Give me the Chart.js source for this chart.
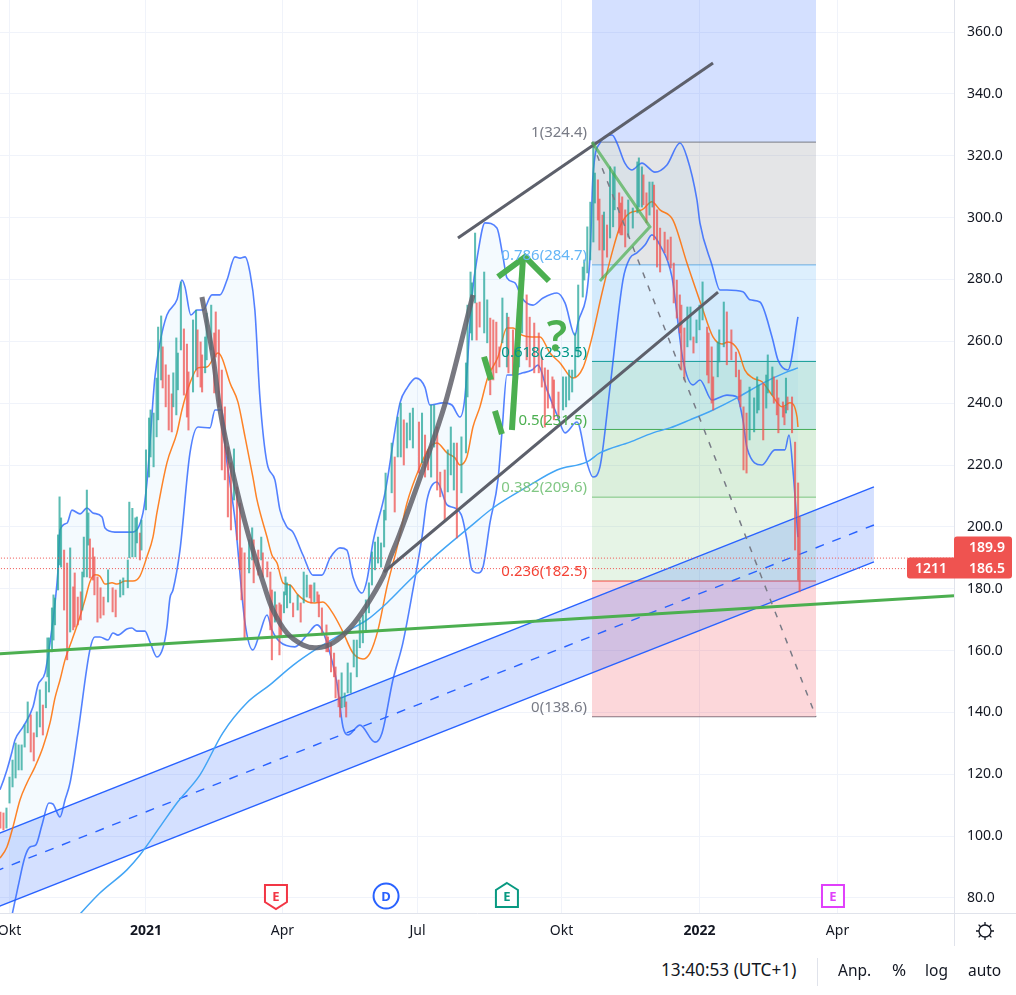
<!DOCTYPE html>
<html>
<head>
<meta charset="utf-8">
<title>1211</title>
<script src="https://cdn.jsdelivr.net/npm/chart.js@4"></script>
<style>
  body { margin: 0; background: #fff; font-family: "Noto Sans", sans-serif; color: #131722; }
  #wrap { position: relative; width: 1016px; height: 995px; overflow: hidden; }
  canvas { position: absolute; left: 0; top: 0; }
  .foot { position: absolute; top: 959px; font-size: 15.5px; line-height: 22px; white-space: nowrap; }
  .rule { position: absolute; background: #e0e3eb; }
</style>
</head>
<body>
<div id="wrap">
  <canvas id="chart" width="1016" height="945"></canvas>
  <div class="rule" style="left:954px;top:913px;width:1px;height:33px"></div>
  <div class="rule" style="left:954px;top:913px;width:62px;height:1px"></div>
  <div class="rule" style="left:817px;top:958px;width:1px;height:28px"></div>
  <svg style="position:absolute;left:974px;top:920px" width="22" height="22" viewBox="0 0 22 22" fill="none" stroke="#131722" stroke-width="1.3">
    <circle cx="11" cy="11" r="6"/>
    <path d="M11 2v3M11 17v3M2 11h3M17 11h3M4.6 4.6l2.1 2.1M15.3 15.3l2.1 2.1M4.6 17.4l2.1-2.1M15.3 6.7l2.1-2.1"/>
  </svg>
  <span class="foot" style="left:661px;font-size:17.2px">13:40:53 (UTC+1)</span>
  <span class="foot" style="left:838px">Anp.</span>
  <span class="foot" style="left:892px;font-size:17px">%</span>
  <span class="foot" style="left:925px">log</span>
  <span class="foot" style="left:968px">auto</span>
</div>
<script>
// x values are calendar days counted from 1 Oct 2020, y values are the share price
const tickDays = [2, 92, 182, 271, 366, 457, 548];
const tickLabels = ['Okt', '2021', 'Apr', 'Jul', 'Okt', '2022', 'Apr'];

const barDays = [
  -4, -2, 0, 2, 4, 6, 8, 10, 12, 14,
  16, 18, 20, 22, 24, 26, 27, 28, 30, 31,
  32, 34, 35, 36, 38, 40, 42, 44, 45, 47,
  49, 50, 51, 53, 54, 55, 57, 58, 60, 62,
  64, 67, 70, 72, 75, 77, 80, 81, 83, 85,
  86, 88, 89, 92, 94, 95, 97, 99, 100, 102,
  103, 105, 107, 109, 110, 112, 113, 115, 117, 119,
  120, 123, 125, 126, 128, 129, 131, 132, 135, 137,
  138, 140, 142, 144, 146, 148, 150, 152, 154, 155,
  157, 160, 162, 163, 166, 168, 169, 172, 174, 175,
  177, 178, 180, 181, 183, 184, 185, 187, 189, 192,
  194, 196, 198, 200, 201, 203, 205, 206, 208, 211,
  212, 214, 216, 217, 219, 220, 221, 223, 224, 225,
  227, 229, 231, 233, 235, 237, 239, 241, 243, 245,
  247, 249, 250, 254, 256, 258, 260, 262, 264, 266,
  268, 272, 274, 276, 278, 280, 282, 284, 286, 289,
  291, 293, 295, 297, 300, 303, 304, 306, 307, 309,
  310, 312, 315, 317, 319, 321, 323, 325, 327, 330,
  331, 334, 336, 338, 340, 343, 345, 348, 351, 353,
  355, 357, 360, 361, 364, 367, 369, 371, 373, 375,
  377, 380, 381, 383, 385, 387, 388, 390, 391, 393,
  394, 396, 398, 400, 401, 404, 405, 406, 408, 410,
  413, 416, 417, 419, 420, 422, 424, 426, 427, 429,
  431, 434, 436, 438, 440, 442, 444, 445, 447, 449,
  451, 453, 455, 457, 459, 462, 463, 465, 466, 469,
  470, 473, 475, 478, 481, 483, 484, 486, 488, 490,
  493, 495, 496, 499, 501, 502, 505, 506, 508, 509,
  512, 513, 514, 515, 518, 520, 522, 523
];
const barHighs = [
  107.8, 107.5, 109.1, 119.1, 124.6, 130.1, 129.5, 129.5, 136, 143.4,
  139.2, 133.4, 140.2, 147.3, 142.4, 149.9, 164.1, 164.1, 173.8, 178,
  177, 197.4, 209.7, 202.9, 192.5, 188.3, 193.2, 180.6, 185.1, 177.3,
  179, 185.4, 196.7, 211.9, 204.5, 196.1, 193.2, 190.3, 183.8, 180.3,
  177.3, 186.1, 180.3, 179.6, 182.8, 183.5, 189.3, 208, 206, 202.9,
  203.2, 198, 202.2, 224.9, 235.2, 237.8, 236.8, 248.1, 264.6, 268.2,
  258.2, 252.4, 249.1, 243, 249.8, 261.1, 256.2, 279.2, 264, 259.1,
  250.1, 266.9, 270.1, 263.7, 259.8, 255.6, 261.4, 269.1, 271.7, 262.7,
  269.5, 263.7, 250.7, 238.8, 225.9, 220.7, 225.2, 212.9, 207.7, 193.2,
  191.6, 195.8, 199.7, 195.8, 192.5, 196.7, 191.6, 188.7, 185.4, 179.6,
  179, 174.8, 175.4, 174.8, 179, 183.8, 181.9, 181.2, 175.4, 178,
  175.4, 185.4, 184.4, 181.2, 181.2, 181.9, 179, 178, 173.8, 168.3,
  164.4, 162.5, 159.2, 154.7, 150.5, 145, 152.8, 146.3, 143.4, 156,
  152.8, 163.4, 163.4, 169.9, 171.5, 176.4, 181.9, 191.9, 195.1, 196.7,
  194.8, 205.4, 217.4, 227.1, 222.6, 235.5, 240, 234.6, 233.6, 236.8,
  238.4, 233.9, 236.8, 229.7, 224.9, 239.4, 239.4, 232.3, 217.7, 218.4,
  224.9, 232.3, 227.1, 227.1, 229.1, 253, 271.7, 282.4, 278.9, 295,
  272.4, 272.7, 282.4, 273.4, 267.5, 266.9, 266.2, 258.2, 274, 269.1,
  267.8, 263.7, 263.7, 262.7, 277.6, 275, 267.8, 265.9, 262.7, 254.9,
  251.4, 250.7, 248.5, 247.5, 243.6, 248.5, 248.5, 250.7, 250.7, 262.7,
  278.2, 284, 286.3, 297, 305, 324.1, 314.4, 312.2, 306, 300.8,
  301.8, 297.6, 316.4, 314.4, 316.4, 308, 304.7, 306.7, 302.5, 305.7,
  303.1, 318, 319.3, 316.4, 313.8, 308, 311.5, 311.5, 310.5, 302.5,
  296.6, 295.3, 292.8, 293.7, 285.3, 279.8, 275, 271.7, 264.3, 271.1,
  271.1, 261.4, 266.9, 271.7, 279.2, 264.6, 262.7, 258.2, 248.5, 259.8,
  263.7, 272.7, 269.5, 263.7, 256.5, 250.7, 247.5, 238.8, 236.8, 245.2,
  241.7, 248.5, 245.9, 246.5, 249.1, 255.6, 251.7, 248.5, 247.5, 241.7,
  240.4, 238.8, 248.1, 242, 242, 227.4, 214.2, 203.2
];
const barLows = [
  102.6, 102, 102.6, 110.7, 115.9, 118.8, 121.4, 121.4, 128.8, 133.4,
  127.2, 124.3, 132.1, 135.3, 132.7, 141.5, 151.5, 146.6, 159.6, 163.4,
  168.3, 179.6, 187.7, 187, 173.1, 157, 166, 166.7, 167.6, 168.3,
  169.9, 173.1, 183.8, 183.8, 194.1, 183.5, 182.8, 178, 169.2, 170.5,
  171.5, 175.7, 172.5, 170.9, 177.3, 178, 180.3, 190, 190.3, 190.3,
  194.8, 189.3, 192.5, 205.5, 216.1, 222.6, 219.4, 229.1, 234.6, 247.5,
  244.9, 238.8, 231.3, 230.7, 238.8, 236.2, 244.3, 257.2, 242.6, 235.5,
  231.3, 243.6, 250.7, 248.5, 245.2, 243.6, 249.8, 254, 257.2, 243.3,
  254.9, 238.8, 218.4, 215.2, 203.2, 199, 208.7, 195.8, 186.1, 176.4,
  164.1, 185.1, 189.3, 181.9, 184.4, 189.3, 183.8, 183.8, 166.7, 157,
  169.2, 169.9, 158.6, 165, 172.2, 178, 173.8, 175.4, 170.9, 173.1,
  169.2, 175.4, 177.3, 177, 175.4, 175.7, 175.7, 170.9, 165, 159.6,
  159.6, 153.1, 151.5, 144.7, 141.8, 138.5, 141.5, 141.8, 138.5, 146.3,
  146.3, 154.7, 151.5, 160.9, 162.5, 166.7, 172.2, 181.2, 186.1, 188.3,
  187, 193.5, 202.2, 211, 204.8, 222.6, 222.6, 220, 225.5, 228.1,
  225.5, 217.4, 220.7, 216.1, 218.4, 216.1, 225.8, 211.9, 209.7, 202.2,
  211.3, 216.8, 211.9, 196.4, 211, 223.9, 242, 262.7, 260.4, 272.4,
  260.4, 264.6, 262.7, 259.5, 242.7, 247.5, 249.8, 251.7, 259.5, 251.7,
  249.8, 249.1, 251.7, 251.7, 262.7, 254, 251.7, 249.8, 249.8, 245.2,
  232.3, 238.4, 238.4, 234.6, 235.5, 237.8, 238.8, 241, 243.6, 248.5,
  254.9, 274.3, 279.8, 282.1, 286.3, 292.1, 304.7, 299.2, 289.5, 280.5,
  289.5, 287.2, 293.4, 297, 302.5, 295, 294.4, 294.4, 290.5, 293.7,
  296.6, 301.5, 303.4, 303.4, 304.1, 298.3, 300.8, 303.4, 292.8, 284,
  282.4, 288.6, 286.3, 283.7, 272.4, 267.5, 262.7, 250.7, 247.5, 258.2,
  260.4, 256.2, 259.5, 263.7, 266.9, 249.1, 246.5, 240, 237.8, 248.5,
  253.3, 258.2, 252.4, 254, 248.5, 241, 238.8, 218.4, 217.4, 228.1,
  230.7, 236.8, 237.8, 228.1, 238.4, 243.3, 242.6, 240, 236.2, 230.4,
  235.5, 233, 236.8, 237.8, 230.4, 192.5, 182.8, 179
];
const barRising = [
  0, 0, 1, 1, 1, 1, 1, 1, 1, 1,
  0, 0, 1, 1, 0, 1, 1, 1, 1, 1,
  1, 1, 1, 1, 0, 0, 1, 0, 0, 0,
  0, 1, 1, 1, 1, 0, 0, 0, 0, 0,
  0, 1, 0, 0, 1, 1, 1, 1, 1, 1,
  1, 0, 1, 1, 1, 1, 1, 1, 1, 1,
  0, 0, 0, 0, 1, 1, 1, 1, 0, 0,
  0, 1, 1, 0, 0, 0, 1, 1, 1, 0,
  0, 0, 0, 0, 0, 0, 1, 0, 0, 0,
  0, 1, 1, 0, 0, 1, 0, 0, 0, 0,
  1, 0, 0, 0, 1, 1, 1, 1, 0, 1,
  0, 1, 1, 0, 0, 1, 0, 0, 0, 0,
  0, 0, 0, 0, 0, 0, 1, 1, 0, 1,
  1, 1, 1, 1, 1, 1, 1, 1, 1, 1,
  1, 1, 1, 1, 0, 1, 1, 0, 1, 1,
  1, 0, 1, 0, 0, 1, 1, 0, 0, 0,
  1, 1, 1, 0, 1, 1, 1, 1, 1, 1,
  0, 0, 1, 1, 0, 0, 0, 0, 1, 1,
  0, 0, 0, 1, 1, 0, 0, 0, 0, 0,
  0, 0, 0, 0, 0, 1, 1, 1, 1, 1,
  1, 1, 1, 1, 1, 1, 1, 0, 0, 0,
  1, 0, 1, 1, 1, 0, 0, 0, 0, 1,
  1, 1, 1, 1, 0, 0, 1, 1, 0, 0,
  0, 0, 0, 0, 0, 0, 0, 0, 0, 1,
  1, 0, 1, 1, 1, 0, 0, 0, 0, 1,
  1, 1, 0, 0, 0, 0, 0, 0, 0, 1,
  1, 1, 1, 0, 1, 1, 1, 0, 0, 0,
  0, 0, 1, 0, 0, 0, 0, 0
];

const upperDays = [
  -7.6, -4.3, 0.3, 3.6, 5.6, 10.9, 17.5, 20.8, 25.4, 28.7, 32, 34, 35.3, 39.9, 43.2, 48.5, 53.1, 57, 63, 65,
  71.5, 78.1, 82.7, 90, 92.6, 97.9, 101.2, 105.8, 112.4, 115.7, 117.7, 121.6, 125.6, 129.6, 135.5, 140.8, 145.4, 150.7, 154, 157.3,
  160.6, 163.8, 167.1, 171.8, 177, 180.3, 184.9, 188.9, 195.5, 202.1, 208, 213.3, 219.9, 224.5, 228.5, 234.4, 237.7, 241.7, 249.6, 259.5,
  264.1, 270, 275.9, 279.2, 287.8, 293.7, 299, 302.3, 306.9, 310.9, 315.5, 323.4, 327.4, 330, 335.3, 339.9, 347.2, 353.8, 363, 368.3,
  374.9, 376.8, 384.8, 386.7, 391.3, 399.3, 402.6, 407.8, 412.4, 419, 427.6, 435.5, 444.1, 448.7, 455.3, 457.3, 465.2, 470.5, 475.1, 485.6,
  490.3, 496.8, 504.8, 508.7, 515.3, 521.9
];
const upperBand = [
  111.7, 115, 121.4, 127.2, 131.1, 135.3, 141.8, 148.9, 152.8, 162.5, 175.4, 186.1, 199, 201.2, 205.4, 204.2, 206.1, 204.5, 203.2, 199.6,
  198.3, 198.3, 198.3, 204.5, 214.2, 248.5, 259.5, 268.5, 273.4, 279.8, 277.6, 268.5, 270.1, 270.1, 275, 275, 279.8, 287.3, 286.9, 287.3,
  282.1, 270.1, 242, 220.7, 215.2, 205.5, 200, 198.3, 190.9, 184.4, 184.4, 189.9, 193.2, 192.5, 183.8, 178.6, 182.8, 195.1, 211, 240.1,
  244.9, 248.1, 245.2, 239.4, 240.1, 239.4, 235.5, 242, 274.3, 288.6, 298.3, 296.6, 287.3, 280.5, 278.9, 274, 271.7, 274, 275.6, 272.4,
  262, 265.9, 287.3, 313.1, 324.1, 326.7, 324.1, 317.6, 315.4, 317.6, 314.7, 317, 324.1, 319.6, 305.7, 298.2, 284.7, 276.6, 276.6, 276,
  273.4, 272.7, 261.4, 254, 250.7, 267.9
];

const lowerDays = [
  2.3, 7.6, 12.2, 15.5, 19.4, 23.4, 28, 30.6, 35.3, 38.6, 41.9, 47.1, 55, 58.3, 61.6, 66.9, 70.2, 73.5, 79.4, 82.7,
  86, 91.3, 94.6, 99.2, 103.2, 105.8, 107.8, 109.8, 114.4, 121, 126.3, 134.2, 137.5, 142.1, 144.1, 147.4, 150.7, 157.3, 162.5, 167.1,
  171.8, 175, 180.3, 190.2, 198.1, 204.7, 208, 211.3, 217.9, 221.9, 225.2, 233.1, 243, 247.6, 254.8, 261.4, 268, 274, 277.3, 283.9,
  290.5, 295.7, 300.4, 303.6, 306.9, 310.9, 314.2, 318.8, 324.1, 326.7, 330, 333.3, 340.6, 346.5, 350.5, 356.4, 363.6, 368.3, 376.2, 382.8,
  386.7, 391.3, 398, 406.5, 411.1, 415.7, 421, 425.6, 430.9, 438.8, 446.1, 452.7, 457.3, 465.2, 475.1, 481.7, 485.6, 488.3, 498.2, 506.7,
  513.3, 516, 518.6, 521.9
];
const lowerBand = [
  71.3, 83.6, 93.3, 96.5, 97.2, 103.6, 110.7, 110.4, 106.2, 111.7, 117.2, 133.3, 160.2, 164.4, 164.4, 163.4, 165.7, 165, 167, 167.3,
  166.3, 166.3, 162.8, 157.9, 160.9, 167.6, 177, 179.6, 192.5, 223.9, 232.3, 232, 237.8, 237.8, 225.8, 214.2, 202.2, 168.9, 160.2, 165.7,
  171.5, 166.7, 162.8, 161.2, 165, 168.3, 166.7, 162.5, 149.5, 135.3, 132.7, 135.9, 130.4, 133.3, 150.5, 162.5, 179.6, 196.7, 208.7, 214.5,
  207.1, 206.1, 203.2, 195.8, 186.1, 185.1, 187, 201.3, 215.2, 230.4, 249.1, 249.1, 249.8, 250.7, 252.3, 244.3, 235.5, 230.4, 233.9, 220.7,
  216.1, 219.3, 245.2, 279.8, 286.9, 288.6, 291.1, 294.4, 291.1, 280.8, 254, 245.9, 247.5, 241, 242.6, 242, 234.6, 225.5, 220, 224.9,
  224.9, 229.7, 218.4, 196.7
];

const basisDays = [
  -7.6, -4.3, 0.3, 4.3, 8.9, 13.5, 18.8, 24.1, 28.7, 32, 35.3, 38.6, 43.2, 47.1, 51.8, 55, 58.3, 61.6, 65, 69.6,
  72.9, 78.1, 83.4, 88, 92.6, 96.6, 99.2, 105.8, 112.4, 115.7, 121, 126.3, 132.2, 139.4, 142.1, 147.4, 152.6, 157.3, 162.5, 165.2,
  171.8, 175, 178.4, 182.3, 186.9, 192.2, 198.8, 203.4, 208.7, 214.6, 221.2, 228.5, 235.1, 239.7, 245, 250.9, 257.5, 264.1, 272.6, 279.2,
  283.9, 290.5, 295.7, 299, 303.6, 307.6, 312.2, 317.5, 324.1, 330, 334, 339.9, 346.5, 351.8, 358.4, 365, 373.5, 380.1, 386, 392.7,
  399.3, 404.5, 411.1, 419, 425.6, 430.9, 439.5, 448.7, 458.6, 465.9, 471.8, 475.7, 482.3, 486.9, 492.2, 498.2, 504.8, 511.4, 516.6, 521.3,
  521.9
];
const basisLine = [
  90.7, 92.9, 96.5, 103, 111.7, 117.2, 122.4, 128.8, 136.6, 144.7, 150.5, 157, 163.4, 168.9, 176.4, 182.2, 184.5, 184.1, 181.5, 181.9,
  181.5, 182.5, 182.5, 184.1, 190.3, 196.7, 204.5, 220.7, 230.4, 237.8, 246.5, 251.4, 251.7, 256.2, 254.6, 246.5, 240.4, 229.1, 216.1, 208.7,
  196.7, 190.9, 188.3, 181.9, 181.2, 178, 175.7, 175.4, 175.7, 172.5, 166.7, 159.2, 157.3, 159.2, 166.7, 180.6, 193.2, 207.7, 219.4, 225.8,
  227.1, 223.9, 222.3, 220, 222.6, 232.3, 238.8, 248.5, 254.9, 264.3, 264.3, 262, 261.4, 261.4, 256.2, 253, 248.1, 251.4, 261.1, 275.6,
  288.6, 297, 301.5, 302.5, 305.1, 302.5, 299.2, 285.3, 271.1, 261.4, 259.1, 259.8, 257.2, 250.7, 248.1, 246.9, 242.6, 238.8, 240.1, 235.5,
  232.3
];

const smaDays = [41.9, 61.6, 79.4, 88, 101.2, 113, 127.6, 142.7, 158.6, 173.7, 188.9, 204.7, 221.9, 237.7, 250.9, 266, 281.2, 305.6, 320.8, 343.2, 363, 382.8, 391.3, 411.1, 426.3, 437.5, 450.7, 465.9, 481.7, 498.8, 514.7, 521.9];
const smaLine = [71.3, 81.6, 89.1, 93.9, 103, 111.1, 119.8, 133.4, 143.1, 148.9, 155.2, 160.6, 165.6, 169.9, 175.4, 182.8, 189.9, 200, 206.1, 212.9, 218.4, 221, 223.9, 227.4, 230.4, 232, 234.6, 237.8, 241.7, 246.5, 250.1, 251.4];

// fibonacci retracement
const fibStartDay = 386.1;
const fibEndDay = 533.8;
const fibRatios = ['1', '0.786', '0.618', '0.5', '0.382', '0.236', '0'];
const fibPrices = [324.4, 284.7, 253.5, 231.5, 209.6, 182.5, 138.6];
const fibLineColors = ['#787b86', '#64b5f6', '#009688', '#4caf50', '#81c784', '#f44336', '#787b86'];
const fibFillColors = ['rgba(120,123,134,.2)', 'rgba(100,181,246,.22)', 'rgba(0,150,136,.22)', 'rgba(76,175,80,.2)', 'rgba(129,199,132,.2)', 'rgba(242,54,69,.2)'];

// parallel channel
const channelDays = [-7.6, 572];
const channelUpper = [100.4, 212.9];
const channelMiddle = [88.6, 200.6];
const channelLower = [76.8, 188.7];

// hand drawn lines
const bowlDays = [128.9, 136.2, 140.8, 149.3, 159.2, 170.4, 175.7, 184.9, 195.5, 204.7, 215.3, 226.5, 237.7, 248.3, 252.9, 259.5, 279.2, 290.5, 307.6];
const bowlPrices = [274.3, 254.9, 237.8, 217.4, 198, 180.3, 173.1, 165.7, 161.8, 160.9, 162.5, 167.3, 174.8, 183.8, 189.9, 198, 224.9, 242, 275];
const trendTopDays = [297.7, 465.9];
const trendTopPrices = [293.4, 350];
const trendLowDays = [248.9, 469.2];
const trendLowPrices = [185.4, 275.9];
const supportDays = [-7.6, 624.8];
const supportPrices = [158.9, 177.7];
const projectionDays = [386.1, 533.8];
const projectionPrices = [324.4, 138.6];
const flagDays = [386.1, 424.3, 391.3];
const flagPrices = [324.4, 297, 279.5];
const arrowShaftDays = [333.3, 340.6];
const arrowShaftPrices = [231.3, 286.9];
const arrowHeadDays = [324.1, 342, 357.7];
const arrowHeadPrices = [280.8, 287.3, 279.5];
const strokeADays = [322.1, 326.7];
const strokeAPrices = [237.5, 230];
const strokeBDays = [314.9, 319.5];
const strokeBPrices = [255, 247.5];

const lastPrices = [189.9, 186.5];
const lastPriceLabels = ['189.9', '186.5'];
const symbolTag = '1211';
const priceSpan = [-7.6, 624.8];

const eventDays = [177.7, 250.3, 330, 545];
const eventLetters = ['E', 'D', 'E', 'E'];
const eventColors = ['#f23645', '#2962ff', '#089981', '#e040fb'];
const eventShapes = ['down', 'circle', 'up', 'rect'];

const points = (xs, ys) => xs.map((x, i) => ({ x: x, y: ys[i] }));

const line = (xs, ys, color, width, order, extra) => Object.assign({
  type: 'line',
  data: points(xs, ys),
  borderColor: color,
  borderWidth: width,
  pointRadius: 0,
  fill: false,
  order: order
}, extra || {});

const datasets = [];

// blue block above the top fibonacci level
datasets.push(line([fibStartDay, fibEndDay], [fibPrices[0], fibPrices[0]], 'transparent', 0, 95,
  { fill: 'end', backgroundColor: 'rgba(41,98,255,.2)' }));
fibPrices.forEach((price, i) => {
  datasets.push(line([fibStartDay, fibEndDay], [price, price], fibLineColors[i], 1, 90, i < fibFillColors.length
    ? { fill: { value: fibPrices[i + 1] }, backgroundColor: fibFillColors[i] }
    : {}));
});

datasets.push(line(channelDays, channelUpper, '#2962ff', 1.4, 80, { fill: '+1', backgroundColor: 'rgba(41,98,255,.2)' }));
datasets.push(line(channelDays, channelLower, '#2962ff', 1.4, 80));
datasets.push(line(channelDays, channelMiddle, '#2962ff', 1.4, 79, { borderDash: [9, 9] }));

datasets.push(line(upperDays, upperBand, 'rgba(41,98,255,.8)', 1.6, 60,
  { cubicInterpolationMode: 'monotone', fill: '+1', backgroundColor: 'rgba(33,150,243,.05)' }));
datasets.push(line(lowerDays, lowerBand, 'rgba(41,98,255,.8)', 1.6, 60, { cubicInterpolationMode: 'monotone' }));
datasets.push(line(basisDays, basisLine, 'rgba(255,109,0,.85)', 1.5, 59, { cubicInterpolationMode: 'monotone' }));
datasets.push(line(smaDays, smaLine, '#42a5f5', 1.5, 58, { cubicInterpolationMode: 'monotone' }));

datasets.push({
  type: 'bar',
  data: barDays.map((d, i) => ({ x: d, y: [barLows[i], barHighs[i]] })),
  backgroundColor: barRising.map(r => r ? 'rgba(38,166,154,.75)' : 'rgba(239,83,80,.75)'),
  borderWidth: 0,
  barThickness: 1.4,
  order: 50
});

datasets.push(line(priceSpan, [lastPrices[0], lastPrices[0]], '#ef5350', 1, 40, { borderDash: [1, 2] }));
datasets.push(line(priceSpan, [lastPrices[1], lastPrices[1]], '#ef5350', 1, 40, { borderDash: [1, 2] }));

datasets.push(line(projectionDays, projectionPrices, '#787b86', 1.5, 30, { borderDash: [6, 8] }));
datasets.push(line(supportDays, supportPrices, '#4caf50', 3, 20));
datasets.push(line(trendTopDays, trendTopPrices, '#5d606b', 3, 15));
datasets.push(line(trendLowDays, trendLowPrices, '#5d606b', 3, 15));
datasets.push(line(bowlDays, bowlPrices, 'rgba(96,96,106,.85)', 5, 14, { tension: 0.35 }));
datasets.push(line(flagDays, flagPrices, 'rgba(76,175,80,.7)', 3, 12));
datasets.push(line(arrowShaftDays, arrowShaftPrices, '#4caf50', 6, 11));
datasets.push(line(arrowHeadDays, arrowHeadPrices, '#4caf50', 6, 11));
datasets.push(line(strokeADays, strokeAPrices, '#4caf50', 6, 11));
datasets.push(line(strokeBDays, strokeBPrices, '#4caf50', 6, 11));

const labelsPlugin = {
  id: 'labels',
  afterDatasetsDraw(chart) {
    const { ctx, scales: { x, y }, chartArea } = chart;
    ctx.save();
    ctx.textBaseline = 'middle';
    ctx.textAlign = 'right';
    ctx.font = '15px "Noto Sans"';
    fibPrices.forEach((price, i) => {
      ctx.fillStyle = fibLineColors[i];
      ctx.fillText(`${fibRatios[i]}(${price.toFixed(1)})`, x.getPixelForValue(fibStartDay) - 5, y.getPixelForValue(price) - 9);
    });

    ctx.textAlign = 'center';
    ctx.fillStyle = '#4caf50';
    ctx.font = '600 44px "Noto Sans"';
    ctx.fillText('?', x.getPixelForValue(363), y.getPixelForValue(261));

    // earnings and dividend badges
    eventDays.forEach((day, i) => {
      const cx = x.getPixelForValue(day);
      const cy = 896;
      ctx.beginPath();
      if (eventShapes[i] === 'circle') {
        ctx.arc(cx, cy, 12.5, 0, Math.PI * 2);
      } else if (eventShapes[i] === 'down') {
        ctx.moveTo(cx - 11, cy - 11);
        ctx.lineTo(cx + 11, cy - 11);
        ctx.lineTo(cx + 11, cy + 6);
        ctx.lineTo(cx, cy + 13);
        ctx.lineTo(cx - 11, cy + 6);
        ctx.closePath();
      } else if (eventShapes[i] === 'up') {
        ctx.moveTo(cx, cy - 13);
        ctx.lineTo(cx + 11, cy - 6);
        ctx.lineTo(cx + 11, cy + 11);
        ctx.lineTo(cx - 11, cy + 11);
        ctx.lineTo(cx - 11, cy - 6);
        ctx.closePath();
      } else {
        ctx.rect(cx - 11, cy - 11, 22, 22);
      }
      ctx.fillStyle = '#fff';
      ctx.fill();
      ctx.strokeStyle = eventColors[i];
      ctx.lineWidth = 2;
      ctx.stroke();
      ctx.fillStyle = eventColors[i];
      ctx.font = 'bold 13px "Noto Sans"';
      ctx.fillText(eventLetters[i], cx, cy + 1);
    });

    // last price tags on the axis
    const tagY = y.getPixelForValue(lastPrices[1]);
    ctx.fillStyle = '#ef5350';
    ctx.beginPath();
    ctx.roundRect(chartArea.right, tagY - 32, 58, 21, [3, 3, 0, 0]);
    ctx.roundRect(chartArea.right, tagY - 11, 58, 21, [0, 0, 3, 0]);
    ctx.roundRect(chartArea.right - 47, tagY - 11, 47, 21, [3, 0, 0, 3]);
    ctx.fill();
    ctx.fillStyle = '#fff';
    ctx.font = '600 14px "Noto Sans"';
    ctx.textAlign = 'left';
    ctx.fillText(lastPriceLabels[0], chartArea.right + 15, tagY - 21);
    ctx.fillText(lastPriceLabels[1], chartArea.right + 15, tagY);
    ctx.fillText(symbolTag, chartArea.right - 39, tagY);
    ctx.restore();
  }
};

new Chart(document.getElementById('chart').getContext('2d'), {
  type: 'line',
  data: { datasets: datasets },
  plugins: [labelsPlugin],
  options: {
    animation: false,
    responsive: false,
    events: [],
    layout: { padding: 0 },
    plugins: { legend: { display: false }, tooltip: { enabled: false } },
    scales: {
      x: {
        type: 'linear',
        min: -4.27,
        max: 624.8,
        offset: false,
        grid: { color: '#f0f3fa', drawTicks: false, offset: false },
        border: { color: '#e0e3eb' },
        afterBuildTicks: scale => { scale.ticks = tickDays.map(v => ({ value: v })); },
        afterFit: scale => { scale.height = 32; scale.paddingLeft = 0; scale.paddingRight = 0; },
        ticks: {
          autoSkip: false,
          maxRotation: 0,
          padding: 10,
          color: '#131722',
          font: ctx => ({ family: '"Noto Sans"', size: 14, weight: tickLabels[ctx.index] && tickLabels[ctx.index].length === 4 ? 'bold' : 'normal' }),
          callback: (value, index) => tickLabels[index]
        }
      },
      y: {
        type: 'linear',
        position: 'right',
        min: 75.15,
        max: 370.35,
        grid: { color: '#f0f3fa', drawTicks: false },
        border: { color: '#e0e3eb' },
        afterFit: scale => { scale.width = 62; scale.paddingTop = 0; scale.paddingBottom = 0; },
        ticks: {
          stepSize: 20,
          includeBounds: false,
          padding: 13,
          color: '#131722',
          font: { family: '"Noto Sans"', size: 14 },
          callback: value => value.toFixed(1)
        }
      }
    }
  }
});
</script>
</body>
</html>
